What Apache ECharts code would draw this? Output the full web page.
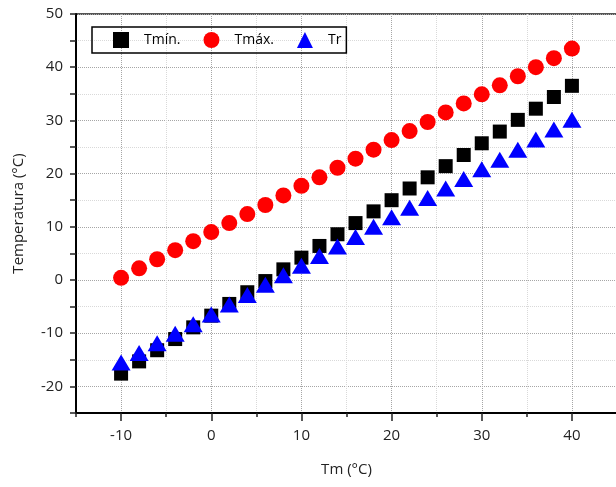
<!DOCTYPE html>
<html><head><meta charset="utf-8">
<script src="https://cdn.jsdelivr.net/npm/echarts@6/dist/echarts.min.js"></script>
<style>html,body{margin:0;padding:0;background:#fff}#c{width:616px;height:487px}</style>
</head><body><div id="c"></div>
<script>
const tm   = [-10,-8,-6,-4,-2,0,2,4,6,8,10,12,14,16,18,20,22,24,26,28,30,32,34,36,38,40];
const tmin = [-17.6,-15.3,-13.2,-11.1,-8.9,-6.7,-4.5,-2.3,-0.2,2.0,4.2,6.4,8.6,10.7,12.9,15.0,17.2,19.3,21.4,23.5,25.7,27.9,30.1,32.2,34.4,36.5];
const tmax = [0.4,2.2,3.9,5.6,7.3,9.0,10.7,12.4,14.1,15.9,17.7,19.3,21.1,22.8,24.5,26.3,28.0,29.7,31.5,33.2,34.9,36.6,38.3,40.0,41.7,43.5];
const tr   = [-15.5,-13.7,-11.9,-10.1,-8.3,-6.5,-4.6,-2.8,-0.9,0.9,2.7,4.5,6.3,8.1,10.0,11.8,13.6,15.4,17.2,19.0,20.8,22.6,24.5,26.4,28.3,30.1];
const xMajorTicks = [-10,0,10,20,30,40];
const yMajorTicks = [-20,-10,0,10,20,30,40,50];
const seriesNames = ['Tmín.','Tmáx.','Tr'];

const FONT = 'Open Sans';
const labelStyle = {color:'#222', fontFamily:FONT, fontSize:15};
const nameStyle = {color:'#222', fontFamily:FONT, fontSize:15};
const tickStyle = {color:'#222', width:1.5};
const minorGrid = '#d9d9d9', majorGrid = '#a6a6a6';

const pairs = arr => tm.map((x,i)=>[x, arr[i]]);

const chart = echarts.init(document.getElementById('c'), null, {renderer:'canvas'});
chart.setOption({
  animation:false,
  backgroundColor:'#fff',
  grid:{left:76, top:14, right:-1, bottom:74, outerBoundsMode:'none',
        show:true, borderColor:'#555', borderWidth:2, backgroundColor:'transparent'},
  xAxis:{
    type:'value', min:-15, max:45, interval:10, position:'bottom',
    axisLine:{onZero:false, lineStyle:{color:'#000', width:2}},
    axisTick:{length:4, lineStyle:tickStyle},
    minorTick:{show:true, splitNumber:2, length:8, lineStyle:tickStyle},
    axisLabel:Object.assign({customValues:xMajorTicks, margin:15}, labelStyle),
    splitLine:{show:true, lineStyle:{type:'dotted', color:minorGrid, width:1}},
    minorSplitLine:{show:true, lineStyle:{type:'dotted', color:majorGrid, width:1}},
    name:'Tm (°C)', nameLocation:'middle', nameGap:49, nameTextStyle:nameStyle
  },
  yAxis:{
    type:'value', min:-25, max:50, interval:5, position:'left',
    axisLine:{onZero:false, lineStyle:{color:'#000', width:2}},
    axisTick:{length:6, lineStyle:tickStyle},
    axisLabel:Object.assign({margin:13, showMinLabel:true, showMaxLabel:true,
      formatter:v => (yMajorTicks.indexOf(v) >= 0 ? String(v) : '')}, labelStyle),
    splitLine:{show:true, lineStyle:{type:'dotted', color:[minorGrid, majorGrid], width:1}},
    name:'Temperatura (°C)', nameLocation:'middle', nameGap:50, nameTextStyle:nameStyle
  },
  legend:{
    left:92, top:27, orient:'horizontal',
    padding:[5,5,5,21],
    borderColor:'#000', borderWidth:1.5, borderRadius:0,
    itemWidth:16, itemHeight:16, itemGap:23,
    textStyle:{color:'#000', fontFamily:FONT, fontSize:14, padding:[0,0,0,10]},
    data:seriesNames
  },
  series:[
    {name:seriesNames[0], type:'scatter', data:pairs(tmin),
     symbol:'rect', symbolSize:14, itemStyle:{color:'#000', opacity:1}},
    {name:seriesNames[1], type:'scatter', data:pairs(tmax),
     symbol:'circle', symbolSize:16, itemStyle:{color:'#ff0000', opacity:1}},
    {name:seriesNames[2], type:'scatter', data:pairs(tr),
     symbol:'triangle', symbolSize:[19,16], itemStyle:{color:'#0000ff', opacity:1}}
  ]
});
</script>
</body></html>
